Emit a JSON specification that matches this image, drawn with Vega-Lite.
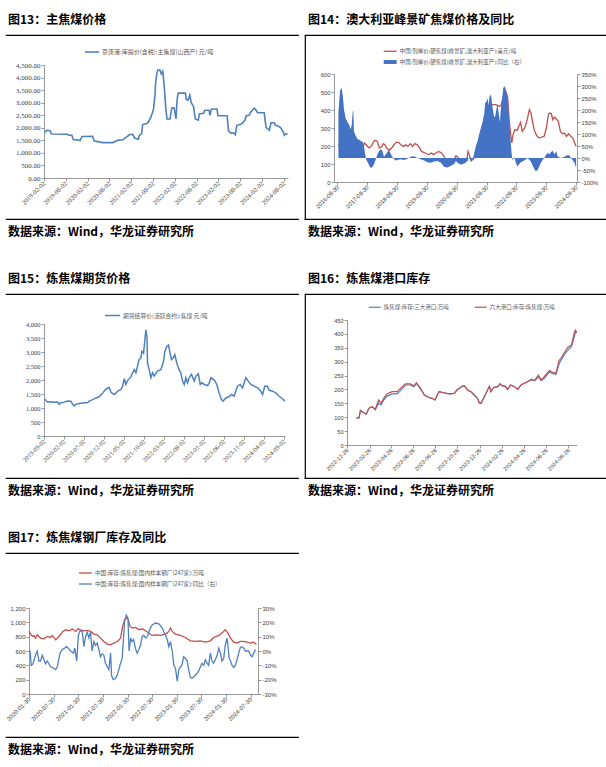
{
"$schema": "https://vega.github.io/schema/vega-lite/v6.json",
"background": "white",
"padding": {"left": 5, "top": 0, "right": 0, "bottom": 0},
"bounds": "flush",
"spacing": 299,
"resolve": {"scale": {"color": "independent"}, "legend": {"color": "independent"}},
"config": {
  "view": {"stroke": null},
  "concat": {"spacing": 0},
  "font": "Noto Sans CJK SC",
  "title": {"font": "Noto Sans CJK SC", "fontSize": 12, "fontWeight": "bold", "color": "#000000", "anchor": "start", "frame": "group"},
  "axis": {"grid": false, "domainColor": "#7f7f7f", "tickColor": "#7f7f7f", "tickSize": 3, "domainWidth": 0.8, "tickWidth": 0.8, "labelColor": "#404040", "labelPadding": 1, "labelOverlap": false, "labelFlush": false, "labelFont": "Liberation Sans", "labelFontSize": 6},
  "axisX": {"labelAngle": -45, "labelAlign": "right", "labelBaseline": "middle", "format": "%Y-%m-%d"},
  "legend": {"padding": 0, "labelFont": "Noto Sans CJK SC", "labelFontSize": 5.8, "labelColor": "#595959", "labelLimit": 400, "labelOffset": 2, "symbolStrokeWidth": 1.5, "orient": "none", "title": null}
},
"datasets": {
  "p13": [
    {"d":"2019-02-05","v":1810},{"d":"2019-02-25","v":1900},{"d":"2019-03-25","v":1880},{"d":"2019-04-05","v":1750},{"d":"2019-08-18","v":1740},{"d":"2019-08-27","v":1700},{"d":"2019-09-23","v":1700},{"d":"2019-10-05","v":1530},{"d":"2019-12-02","v":1500},{"d":"2019-12-17","v":1650},{"d":"2020-03-14","v":1660},{"d":"2020-03-29","v":1470},{"d":"2020-05-08","v":1440},{"d":"2020-06-05","v":1410},{"d":"2020-08-29","v":1410},{"d":"2020-10-11","v":1500},{"d":"2020-11-23","v":1520},{"d":"2020-12-20","v":1620},{"d":"2021-01-17","v":1720},{"d":"2021-02-14","v":1740},{"d":"2021-03-01","v":1590},{"d":"2021-04-02","v":1540},{"d":"2021-04-11","v":1700},{"d":"2021-04-29","v":1760},{"d":"2021-05-08","v":2130},{"d":"2021-06-17","v":2180},{"d":"2021-07-02","v":2290},{"d":"2021-07-14","v":2400},{"d":"2021-07-29","v":2600},{"d":"2021-08-07","v":2750},{"d":"2021-08-19","v":3300},{"d":"2021-08-25","v":3800},{"d":"2021-09-03","v":4150},{"d":"2021-09-12","v":4300},{"d":"2021-09-29","v":4300},{"d":"2021-10-11","v":4150},{"d":"2021-10-23","v":4250},{"d":"2021-10-29","v":4000},{"d":"2021-11-07","v":3500},{"d":"2021-11-19","v":2700},{"d":"2021-11-28","v":2350},{"d":"2021-12-23","v":2350},{"d":"2022-01-02","v":2650},{"d":"2022-01-08","v":2800},{"d":"2022-01-26","v":2800},{"d":"2022-02-04","v":2550},{"d":"2022-02-11","v":2350},{"d":"2022-02-20","v":3100},{"d":"2022-03-01","v":3380},{"d":"2022-05-01","v":3380},{"d":"2022-05-08","v":3130},{"d":"2022-05-23","v":3100},{"d":"2022-06-07","v":3300},{"d":"2022-06-19","v":3000},{"d":"2022-07-08","v":2850},{"d":"2022-07-23","v":2350},{"d":"2022-08-17","v":2300},{"d":"2022-08-26","v":2550},{"d":"2022-09-29","v":2580},{"d":"2022-10-11","v":2700},{"d":"2022-11-14","v":2700},{"d":"2022-11-23","v":2500},{"d":"2022-12-05","v":2750},{"d":"2023-01-20","v":2750},{"d":"2023-01-29","v":2480},{"d":"2023-04-15","v":2480},{"d":"2023-04-27","v":1880},{"d":"2023-05-18","v":1790},{"d":"2023-06-08","v":1800},{"d":"2023-06-23","v":1720},{"d":"2023-07-05","v":2100},{"d":"2023-08-14","v":2150},{"d":"2023-09-11","v":2300},{"d":"2023-09-23","v":2480},{"d":"2023-10-17","v":2500},{"d":"2023-11-02","v":2650},{"d":"2023-11-29","v":2780},{"d":"2023-12-17","v":2680},{"d":"2023-12-26","v":2600},{"d":"2024-02-20","v":2600},{"d":"2024-03-06","v":2020},{"d":"2024-04-02","v":1900},{"d":"2024-04-17","v":2200},{"d":"2024-05-14","v":2200},{"d":"2024-05-23","v":2100},{"d":"2024-06-11","v":2080},{"d":"2024-07-08","v":2000},{"d":"2024-07-26","v":1850},{"d":"2024-08-07","v":1700},{"d":"2024-08-19","v":1760},{"d":"2024-09-03","v":1760}
  ],
  "p15": [
    {"d":"2019-09-04","v":1328},{"d":"2019-09-17","v":1267},{"d":"2019-09-30","v":1215},{"d":"2019-10-25","v":1225},{"d":"2019-11-20","v":1205},{"d":"2019-12-15","v":1215},{"d":"2019-12-27","v":1130},{"d":"2020-01-09","v":1190},{"d":"2020-02-04","v":1210},{"d":"2020-02-28","v":1250},{"d":"2020-03-25","v":1245},{"d":"2020-04-07","v":1130},{"d":"2020-04-19","v":1070},{"d":"2020-05-02","v":1130},{"d":"2020-05-26","v":1160},{"d":"2020-07-05","v":1190},{"d":"2020-07-30","v":1190},{"d":"2020-08-11","v":1245},{"d":"2020-09-07","v":1300},{"d":"2020-10-02","v":1360},{"d":"2020-10-26","v":1400},{"d":"2020-11-22","v":1540},{"d":"2020-12-17","v":1680},{"d":"2021-01-11","v":1730},{"d":"2021-01-24","v":1560},{"d":"2021-02-19","v":1480},{"d":"2021-03-16","v":1600},{"d":"2021-04-10","v":1660},{"d":"2021-04-23","v":1780},{"d":"2021-05-05","v":2050},{"d":"2021-05-17","v":1840},{"d":"2021-05-30","v":1980},{"d":"2021-06-24","v":2100},{"d":"2021-07-07","v":2260},{"d":"2021-07-20","v":2370},{"d":"2021-08-02","v":2260},{"d":"2021-08-14","v":2490},{"d":"2021-08-26","v":2730},{"d":"2021-09-09","v":2790},{"d":"2021-09-16","v":3020},{"d":"2021-09-29","v":2960},{"d":"2021-10-09","v":3430},{"d":"2021-10-17","v":3790},{"d":"2021-10-25","v":3550},{"d":"2021-10-29","v":2610},{"d":"2021-11-11","v":2370},{"d":"2021-11-24","v":2080},{"d":"2021-12-07","v":2260},{"d":"2021-12-19","v":2140},{"d":"2022-01-13","v":2320},{"d":"2022-02-08","v":2370},{"d":"2022-02-28","v":2670},{"d":"2022-03-10","v":3020},{"d":"2022-03-25","v":3200},{"d":"2022-04-07","v":3250},{"d":"2022-04-19","v":2960},{"d":"2022-04-29","v":2730},{"d":"2022-05-14","v":2790},{"d":"2022-05-25","v":2910},{"d":"2022-06-09","v":2610},{"d":"2022-06-27","v":2370},{"d":"2022-07-10","v":2250},{"d":"2022-07-23","v":1960},{"d":"2022-08-05","v":1840},{"d":"2022-08-17","v":2080},{"d":"2022-08-30","v":1900},{"d":"2022-09-11","v":2080},{"d":"2022-09-29","v":2200},{"d":"2022-10-20","v":1960},{"d":"2022-11-02","v":2140},{"d":"2022-11-20","v":2220},{"d":"2022-12-05","v":1840},{"d":"2022-12-17","v":1900},{"d":"2023-01-05","v":1840},{"d":"2023-01-30","v":1800},{"d":"2023-02-11","v":1900},{"d":"2023-02-24","v":2080},{"d":"2023-03-22","v":2000},{"d":"2023-04-10","v":1840},{"d":"2023-04-27","v":1540},{"d":"2023-05-15","v":1300},{"d":"2023-05-27","v":1245},{"d":"2023-06-17","v":1360},{"d":"2023-07-12","v":1400},{"d":"2023-07-30","v":1480},{"d":"2023-08-20","v":1420},{"d":"2023-09-14","v":1780},{"d":"2023-10-05","v":1840},{"d":"2023-10-23","v":1720},{"d":"2023-11-17","v":2080},{"d":"2023-12-05","v":1960},{"d":"2023-12-25","v":1840},{"d":"2024-01-20","v":1780},{"d":"2024-02-14","v":1720},{"d":"2024-03-10","v":1600},{"d":"2024-03-23","v":1480},{"d":"2024-04-09","v":1780},{"d":"2024-04-29","v":1780},{"d":"2024-05-11","v":1640},{"d":"2024-06-07","v":1600},{"d":"2024-07-02","v":1540},{"d":"2024-07-27","v":1420},{"d":"2024-08-22","v":1330},{"d":"2024-09-09","v":1245}
  ],
  "p14l": [
    {"d":"2016-09-12","p":200},{"d":"2016-10-15","p":230},{"d":"2016-11-15","p":290},{"d":"2016-12-15","p":260},{"d":"2017-01-20","p":220},{"d":"2017-02-20","p":160},{"d":"2017-03-15","p":150},{"d":"2017-04-15","p":200},{"d":"2017-05-15","p":190},{"d":"2017-06-15","p":170},{"d":"2017-07-14","p":200},{"d":"2017-07-30","p":217},{"d":"2017-08-17","p":207},{"d":"2017-09-22","p":189},{"d":"2017-10-18","p":198},{"d":"2017-11-10","p":217},{"d":"2017-11-25","p":230},{"d":"2017-12-15","p":231},{"d":"2018-01-05","p":220},{"d":"2018-01-25","p":189},{"d":"2018-02-24","p":194},{"d":"2018-03-15","p":213},{"d":"2018-04-05","p":207},{"d":"2018-04-25","p":189},{"d":"2018-05-28","p":176},{"d":"2018-06-25","p":189},{"d":"2018-07-25","p":207},{"d":"2018-08-20","p":220},{"d":"2018-09-18","p":220},{"d":"2018-10-15","p":207},{"d":"2018-11-20","p":198},{"d":"2018-12-15","p":207},{"d":"2019-01-10","p":198},{"d":"2019-02-10","p":213},{"d":"2019-03-10","p":198},{"d":"2019-04-05","p":213},{"d":"2019-05-05","p":207},{"d":"2019-06-05","p":189},{"d":"2019-06-25","p":170},{"d":"2019-07-25","p":165},{"d":"2019-08-28","p":157},{"d":"2019-09-25","p":152},{"d":"2019-10-25","p":161},{"d":"2019-11-20","p":152},{"d":"2019-12-20","p":161},{"d":"2020-01-20","p":170},{"d":"2020-02-12","p":165},{"d":"2020-03-15","p":152},{"d":"2020-04-12","p":128},{"d":"2020-05-10","p":109},{"d":"2020-06-20","p":106},{"d":"2020-07-20","p":115},{"d":"2020-08-20","p":146},{"d":"2020-09-10","p":139},{"d":"2020-10-15","p":109},{"d":"2020-11-30","p":106},{"d":"2020-12-30","p":120},{"d":"2021-01-15","p":170},{"d":"2021-01-30","p":152},{"d":"2021-02-20","p":120},{"d":"2021-03-12","p":124},{"d":"2021-04-01","p":133},{"d":"2021-05-12","p":150},{"d":"2021-06-22","p":190},{"d":"2021-08-02","p":250},{"d":"2021-08-25","p":430},{"d":"2021-09-11","p":411},{"d":"2021-10-01","p":420},{"d":"2021-11-10","p":430},{"d":"2021-12-20","p":430},{"d":"2022-02-01","p":420},{"d":"2022-02-22","p":424},{"d":"2022-03-15","p":457},{"d":"2022-04-03","p":485},{"d":"2022-04-28","p":498},{"d":"2022-05-16","p":467},{"d":"2022-06-02","p":346},{"d":"2022-06-20","p":272},{"d":"2022-07-05","p":217},{"d":"2022-07-20","p":263},{"d":"2022-08-10","p":291},{"d":"2022-09-10","p":287},{"d":"2022-10-01","p":313},{"d":"2022-10-20","p":331},{"d":"2022-11-10","p":281},{"d":"2022-12-10","p":300},{"d":"2023-01-05","p":337},{"d":"2023-02-05","p":402},{"d":"2023-02-25","p":383},{"d":"2023-03-15","p":337},{"d":"2023-04-05","p":291},{"d":"2023-05-05","p":257},{"d":"2023-06-05","p":244},{"d":"2023-07-05","p":250},{"d":"2023-08-05","p":254},{"d":"2023-09-01","p":300},{"d":"2023-09-25","p":374},{"d":"2023-10-10","p":383},{"d":"2023-11-01","p":380},{"d":"2023-11-18","p":346},{"d":"2023-12-08","p":361},{"d":"2024-01-01","p":350},{"d":"2024-01-25","p":337},{"d":"2024-02-20","p":281},{"d":"2024-03-15","p":268},{"d":"2024-04-09","p":272},{"d":"2024-05-05","p":254},{"d":"2024-05-28","p":268},{"d":"2024-06-20","p":257},{"d":"2024-07-21","p":244},{"d":"2024-08-10","p":220},{"d":"2024-08-30","p":198}
  ],
  "p14a": [
    {"d":"2016-09-12","y":190},{"d":"2016-10-02","y":280},{"d":"2016-10-18","y":295},{"d":"2016-11-04","y":260},{"d":"2016-11-20","y":200},{"d":"2016-12-10","y":165},{"d":"2016-12-31","y":150},{"d":"2017-01-20","y":140},{"d":"2017-02-10","y":120},{"d":"2017-02-22","y":140},{"d":"2017-03-05","y":190},{"d":"2017-03-13","y":200},{"d":"2017-03-21","y":110},{"d":"2017-04-10","y":95},{"d":"2017-05-01","y":80},{"d":"2017-06-11","y":72},{"d":"2017-07-14","y":65},{"d":"2017-07-30","y":30},{"d":"2017-08-16","y":-5},{"d":"2017-09-01","y":-15},{"d":"2017-09-22","y":-30},{"d":"2017-10-12","y":-42},{"d":"2017-11-02","y":-38},{"d":"2017-11-23","y":-25},{"d":"2017-12-13","y":-5},{"d":"2018-01-02","y":15},{"d":"2018-01-23","y":28},{"d":"2018-02-12","y":38},{"d":"2018-03-03","y":30},{"d":"2018-03-24","y":5},{"d":"2018-04-14","y":15},{"d":"2018-05-04","y":25},{"d":"2018-05-24","y":32},{"d":"2018-06-14","y":18},{"d":"2018-07-04","y":5},{"d":"2018-07-25","y":-5},{"d":"2018-08-14","y":-10},{"d":"2018-09-04","y":-8},{"d":"2018-10-15","y":-5},{"d":"2018-11-25","y":-8},{"d":"2019-01-05","y":-3},{"d":"2019-02-15","y":5},{"d":"2019-03-27","y":7},{"d":"2019-05-07","y":0},{"d":"2019-06-17","y":-5},{"d":"2019-07-28","y":-10},{"d":"2019-09-07","y":-18},{"d":"2019-10-18","y":-20},{"d":"2019-11-28","y":-15},{"d":"2020-01-08","y":-12},{"d":"2020-02-18","y":-20},{"d":"2020-03-30","y":-38},{"d":"2020-05-09","y":-40},{"d":"2020-06-19","y":-32},{"d":"2020-07-30","y":-25},{"d":"2020-08-20","y":-12},{"d":"2020-09-09","y":-20},{"d":"2020-10-20","y":-28},{"d":"2020-11-30","y":-22},{"d":"2021-01-10","y":-12},{"d":"2021-01-30","y":5},{"d":"2021-02-20","y":-18},{"d":"2021-03-12","y":-8},{"d":"2021-04-01","y":20},{"d":"2021-04-21","y":50},{"d":"2021-05-12","y":70},{"d":"2021-06-01","y":100},{"d":"2021-06-22","y":125},{"d":"2021-07-12","y":150},{"d":"2021-08-02","y":185},{"d":"2021-08-14","y":230},{"d":"2021-08-30","y":235},{"d":"2021-09-11","y":250},{"d":"2021-09-23","y":220},{"d":"2021-10-05","y":255},{"d":"2021-10-23","y":265},{"d":"2021-11-04","y":230},{"d":"2021-11-16","y":200},{"d":"2021-12-02","y":170},{"d":"2021-12-14","y":175},{"d":"2021-12-30","y":205},{"d":"2022-01-11","y":225},{"d":"2022-01-24","y":190},{"d":"2022-02-10","y":150},{"d":"2022-02-22","y":210},{"d":"2022-03-06","y":240},{"d":"2022-03-22","y":290},{"d":"2022-04-03","y":300},{"d":"2022-04-20","y":290},{"d":"2022-05-06","y":260},{"d":"2022-05-18","y":240},{"d":"2022-05-30","y":180},{"d":"2022-06-11","y":120},{"d":"2022-06-23","y":60},{"d":"2022-07-05","y":10},{"d":"2022-07-17","y":-10},{"d":"2022-08-04","y":5},{"d":"2022-08-23","y":-20},{"d":"2022-09-13","y":-35},{"d":"2022-10-04","y":-25},{"d":"2022-10-24","y":-18},{"d":"2022-12-04","y":-10},{"d":"2023-01-14","y":0},{"d":"2023-02-24","y":-15},{"d":"2023-03-15","y":-30},{"d":"2023-04-05","y":-45},{"d":"2023-04-26","y":-55},{"d":"2023-05-16","y":-50},{"d":"2023-06-06","y":-35},{"d":"2023-06-26","y":-20},{"d":"2023-07-17","y":-8},{"d":"2023-08-06","y":0},{"d":"2023-08-27","y":12},{"d":"2023-09-17","y":22},{"d":"2023-10-08","y":15},{"d":"2023-10-28","y":25},{"d":"2023-11-18","y":30},{"d":"2023-12-08","y":15},{"d":"2023-12-30","y":28},{"d":"2024-01-19","y":5},{"d":"2024-02-29","y":0},{"d":"2024-04-09","y":5},{"d":"2024-05-20","y":12},{"d":"2024-06-09","y":10},{"d":"2024-06-30","y":0},{"d":"2024-07-21","y":-10},{"d":"2024-08-10","y":-20},{"d":"2024-08-30","y":-40}
  ],
  "p16": [
    {"d":"2023-01-21","a":98,"b":98},{"d":"2023-01-28","a":98,"b":98},{"d":"2023-02-01","a":124,"b":124},{"d":"2023-02-10","a":116,"b":116},{"d":"2023-02-17","a":111,"b":111},{"d":"2023-02-24","a":132,"b":132},{"d":"2023-03-05","a":138,"b":138},{"d":"2023-03-14","a":127,"b":129},{"d":"2023-03-23","a":150,"b":162},{"d":"2023-03-30","a":144,"b":150},{"d":"2023-04-06","a":162,"b":168},{"d":"2023-04-15","a":176,"b":184},{"d":"2023-04-29","a":184,"b":192},{"d":"2023-05-13","a":184,"b":192},{"d":"2023-05-22","a":196,"b":204},{"d":"2023-06-05","a":216,"b":220},{"d":"2023-06-19","a":216,"b":220},{"d":"2023-06-28","a":210,"b":212},{"d":"2023-07-05","a":222,"b":224},{"d":"2023-07-16","a":203,"b":204},{"d":"2023-07-27","a":180,"b":180},{"d":"2023-08-08","a":171,"b":171},{"d":"2023-08-17","a":168,"b":168},{"d":"2023-08-25","a":162,"b":162},{"d":"2023-09-05","a":192,"b":192},{"d":"2023-09-19","a":188,"b":188},{"d":"2023-10-03","a":184,"b":184},{"d":"2023-10-17","a":186,"b":186},{"d":"2023-10-26","a":200,"b":200},{"d":"2023-11-09","a":212,"b":212},{"d":"2023-11-15","a":212,"b":212},{"d":"2023-11-23","a":198,"b":198},{"d":"2023-12-02","a":192,"b":192},{"d":"2023-12-11","a":180,"b":180},{"d":"2023-12-20","a":168,"b":168},{"d":"2023-12-25","a":152,"b":152},{"d":"2023-12-30","a":150,"b":150},{"d":"2024-01-08","a":174,"b":174},{"d":"2024-01-22","a":212,"b":212},{"d":"2024-01-26","a":192,"b":192},{"d":"2024-02-03","a":207,"b":207},{"d":"2024-02-14","a":210,"b":210},{"d":"2024-02-20","a":220,"b":220},{"d":"2024-02-28","a":212,"b":212},{"d":"2024-03-05","a":212,"b":212},{"d":"2024-03-12","a":200,"b":200},{"d":"2024-03-20","a":216,"b":216},{"d":"2024-03-31","a":210,"b":210},{"d":"2024-04-09","a":200,"b":200},{"d":"2024-04-18","a":216,"b":216},{"d":"2024-04-27","a":222,"b":222},{"d":"2024-05-06","a":228,"b":228},{"d":"2024-05-16","a":234,"b":237},{"d":"2024-05-25","a":232,"b":232},{"d":"2024-05-29","a":236,"b":240},{"d":"2024-06-05","a":245,"b":252},{"d":"2024-06-12","a":232,"b":234},{"d":"2024-06-21","a":240,"b":246},{"d":"2024-07-05","a":262,"b":268},{"d":"2024-07-14","a":258,"b":262},{"d":"2024-07-23","a":254,"b":258},{"d":"2024-08-01","a":293,"b":305},{"d":"2024-08-06","a":305,"b":312},{"d":"2024-08-15","a":325,"b":332},{"d":"2024-08-24","a":340,"b":350},{"d":"2024-09-04","a":355,"b":360},{"d":"2024-09-12","a":392,"b":408},{"d":"2024-09-15","a":405,"b":414},{"d":"2024-09-18","a":408,"b":404}
  ],
  "p17r": [
    {"d":"2020-01-30","v":873},{"d":"2020-02-11","v":836},{"d":"2020-02-24","v":803},{"d":"2020-03-06","v":817},{"d":"2020-03-18","v":780},{"d":"2020-03-31","v":826},{"d":"2020-04-13","v":803},{"d":"2020-04-25","v":780},{"d":"2020-05-20","v":770},{"d":"2020-06-14","v":803},{"d":"2020-07-08","v":789},{"d":"2020-07-21","v":817},{"d":"2020-08-15","v":756},{"d":"2020-09-09","v":803},{"d":"2020-10-03","v":864},{"d":"2020-10-28","v":896},{"d":"2020-11-21","v":882},{"d":"2020-12-16","v":906},{"d":"2021-01-10","v":873},{"d":"2021-01-28","v":910},{"d":"2021-02-16","v":896},{"d":"2021-03-13","v":882},{"d":"2021-04-06","v":887},{"d":"2021-04-30","v":873},{"d":"2021-05-25","v":836},{"d":"2021-06-19","v":826},{"d":"2021-07-13","v":780},{"d":"2021-08-07","v":733},{"d":"2021-09-01","v":696},{"d":"2021-09-26","v":686},{"d":"2021-10-20","v":710},{"d":"2021-11-14","v":733},{"d":"2021-12-09","v":780},{"d":"2021-12-24","v":943},{"d":"2022-01-08","v":1036},{"d":"2022-01-23","v":1060},{"d":"2022-02-05","v":1036},{"d":"2022-02-17","v":943},{"d":"2022-03-06","v":920},{"d":"2022-03-30","v":929},{"d":"2022-04-24","v":896},{"d":"2022-05-18","v":910},{"d":"2022-06-12","v":882},{"d":"2022-07-06","v":850},{"d":"2022-07-30","v":817},{"d":"2022-09-07","v":826},{"d":"2022-10-01","v":817},{"d":"2022-11-08","v":836},{"d":"2022-12-02","v":873},{"d":"2022-12-14","v":920},{"d":"2022-12-27","v":873},{"d":"2023-01-20","v":836},{"d":"2023-02-27","v":817},{"d":"2023-04-03","v":789},{"d":"2023-05-11","v":742},{"d":"2023-06-17","v":733},{"d":"2023-07-24","v":742},{"d":"2023-08-30","v":724},{"d":"2023-10-06","v":742},{"d":"2023-10-30","v":789},{"d":"2023-12-07","v":817},{"d":"2023-12-31","v":850},{"d":"2024-01-24","v":896},{"d":"2024-02-13","v":850},{"d":"2024-03-03","v":780},{"d":"2024-03-27","v":724},{"d":"2024-04-21","v":710},{"d":"2024-05-15","v":733},{"d":"2024-06-09","v":733},{"d":"2024-07-04","v":724},{"d":"2024-07-30","v":710},{"d":"2024-08-18","v":724},{"d":"2024-09-11","v":696}
  ],
  "p17b": [
    {"d":"2020-01-30","y":0},{"d":"2020-02-06","y":0},{"d":"2020-02-16","y":-10},{"d":"2020-02-28","y":-9},{"d":"2020-03-18","y":-3},{"d":"2020-03-31","y":0},{"d":"2020-04-13","y":-7},{"d":"2020-04-25","y":-7},{"d":"2020-05-07","y":-3},{"d":"2020-05-20","y":-6},{"d":"2020-06-01","y":-9},{"d":"2020-06-14","y":-7},{"d":"2020-07-08","y":-11},{"d":"2020-08-02","y":-12},{"d":"2020-08-15","y":-13},{"d":"2020-08-27","y":-11},{"d":"2020-09-16","y":-1.5},{"d":"2020-10-03","y":1},{"d":"2020-10-20","y":2},{"d":"2020-11-04","y":3},{"d":"2020-11-21","y":1.5},{"d":"2020-12-04","y":0},{"d":"2020-12-24","y":-1.5},{"d":"2021-01-03","y":2},{"d":"2021-01-18","y":-7},{"d":"2021-01-30","y":11},{"d":"2021-02-11","y":14},{"d":"2021-02-28","y":13.5},{"d":"2021-03-12","y":3},{"d":"2021-03-24","y":10},{"d":"2021-04-06","y":13},{"d":"2021-04-18","y":9},{"d":"2021-04-30","y":13.5},{"d":"2021-05-12","y":0},{"d":"2021-05-25","y":6.5},{"d":"2021-06-06","y":4},{"d":"2021-06-19","y":5.5},{"d":"2021-07-01","y":1},{"d":"2021-07-13","y":-4},{"d":"2021-07-25","y":-2},{"d":"2021-08-07","y":-3},{"d":"2021-08-19","y":-8.5},{"d":"2021-09-01","y":-11},{"d":"2021-09-13","y":-13},{"d":"2021-09-26","y":-1.5},{"d":"2021-10-03","y":-17},{"d":"2021-10-15","y":-20},{"d":"2021-11-02","y":-19},{"d":"2021-11-14","y":-17},{"d":"2021-11-26","y":-13},{"d":"2021-12-09","y":-8.5},{"d":"2021-12-21","y":-5},{"d":"2021-12-29","y":6.5},{"d":"2022-01-08","y":20.7},{"d":"2022-01-20","y":25},{"d":"2022-02-02","y":23},{"d":"2022-02-10","y":0},{"d":"2022-02-22","y":9},{"d":"2022-03-04","y":6.5},{"d":"2022-03-16","y":8},{"d":"2022-03-29","y":2},{"d":"2022-04-10","y":-1.5},{"d":"2022-04-24","y":1},{"d":"2022-05-06","y":4},{"d":"2022-05-18","y":10},{"d":"2022-05-30","y":11},{"d":"2022-06-12","y":9},{"d":"2022-06-24","y":10},{"d":"2022-07-06","y":13},{"d":"2022-07-18","y":16},{"d":"2022-07-30","y":18},{"d":"2022-08-24","y":19.5},{"d":"2022-09-19","y":19},{"d":"2022-10-15","y":16},{"d":"2022-10-27","y":13},{"d":"2022-11-08","y":11},{"d":"2022-11-20","y":8},{"d":"2022-12-02","y":3},{"d":"2022-12-14","y":6.5},{"d":"2022-12-27","y":0},{"d":"2023-01-08","y":-10},{"d":"2023-01-20","y":-12},{"d":"2023-02-02","y":-21},{"d":"2023-02-14","y":-13},{"d":"2023-02-27","y":-11},{"d":"2023-03-09","y":-10},{"d":"2023-03-21","y":-4},{"d":"2023-04-03","y":-5},{"d":"2023-04-17","y":-7},{"d":"2023-04-28","y":-13},{"d":"2023-05-11","y":-18.5},{"d":"2023-05-23","y":-19},{"d":"2023-06-17","y":-17},{"d":"2023-07-11","y":-14},{"d":"2023-07-24","y":-11},{"d":"2023-08-05","y":-8.5},{"d":"2023-08-17","y":-10},{"d":"2023-08-30","y":-6},{"d":"2023-09-11","y":-8.5},{"d":"2023-09-23","y":-10},{"d":"2023-10-06","y":-1.5},{"d":"2023-10-18","y":-7},{"d":"2023-10-30","y":-8.5},{"d":"2023-11-12","y":-6},{"d":"2023-11-25","y":-3},{"d":"2023-12-07","y":2},{"d":"2023-12-19","y":-1.5},{"d":"2023-12-31","y":-7},{"d":"2024-01-13","y":-5},{"d":"2024-01-24","y":4},{"d":"2024-02-06","y":9},{"d":"2024-02-13","y":4},{"d":"2024-02-22","y":-5},{"d":"2024-03-03","y":-7},{"d":"2024-03-15","y":-10},{"d":"2024-03-27","y":-11.5},{"d":"2024-04-08","y":-10},{"d":"2024-04-21","y":-6},{"d":"2024-05-03","y":-1.5},{"d":"2024-05-15","y":2.5},{"d":"2024-05-27","y":3},{"d":"2024-06-09","y":2},{"d":"2024-06-21","y":0},{"d":"2024-07-04","y":0},{"d":"2024-07-16","y":0},{"d":"2024-07-30","y":-3},{"d":"2024-08-11","y":-4},{"d":"2024-08-23","y":-1.5},{"d":"2024-09-05","y":1}
  ]
},
"hconcat": [
  {
    "bounds": "flush",
    "resolve": {"scale": {"color": "independent"}, "legend": {"color": "independent"}},
    "vconcat": [
      {"width": 1, "height": 35, "mark": "point", "data": {"values": []}},
      {"width": 292, "height": 0.01, "view": {"stroke": "#000000", "strokeWidth": 1.2}, "mark": "point", "data": {"values": []}, "title": {"text": "图13：主焦煤价格", "offset": 8, "dx": 2}},
      {"width": 1, "height": 29, "mark": "point", "data": {"values": []}},
      {"bounds": "flush", "resolve": {"scale": {"color": "independent"}, "legend": {"color": "independent"}}, "hconcat": [
        {"width": 38, "height": 1, "mark": "point", "data": {"values": []}},
        {"width": 244, "height": 113, "data": {"name": "p13"},
         "mark": {"type": "line", "strokeWidth": 1.6},
         "encoding": {
           "x": {"field": "d", "type": "temporal", "title": null,
                 "scale": {"type": "utc", "domain": [{"year":2019,"month":2,"date":2,"utc":true},{"year":2024,"month":9,"date":6,"utc":true}]},
                 "axis": {"labelFont": "Liberation Serif", "labelFontSize": 6.5, "values": [{"year":2019,"month":2,"date":2,"utc":true},{"year":2019,"month":8,"date":2,"utc":true},{"year":2020,"month":2,"date":2,"utc":true},{"year":2020,"month":8,"date":2,"utc":true},{"year":2021,"month":2,"date":2,"utc":true},{"year":2021,"month":8,"date":2,"utc":true},{"year":2022,"month":2,"date":2,"utc":true},{"year":2022,"month":8,"date":2,"utc":true},{"year":2023,"month":2,"date":2,"utc":true},{"year":2023,"month":8,"date":2,"utc":true},{"year":2024,"month":2,"date":2,"utc":true},{"year":2024,"month":8,"date":2,"utc":true}]}},
           "y": {"field": "v", "type": "quantitative", "title": null, "scale": {"domain": [0, 4500], "nice": false},
                 "axis": {"values": [0,500,1000,1500,2000,2500,3000,3500,4000,4500], "format": ",.2f", "labelFont": "Liberation Serif", "labelFontSize": 7}},
           "color": {"datum": "京唐港:库提价(含税):主焦煤(山西产)   元/吨", "scale": {"range": ["#4F81BD"]},
                     "legend": {"title": null, "orient": "none", "legendX": 40, "legendY": -21, "symbolType": "stroke", "symbolSize": 196, "symbolStrokeWidth": 1.6, "labelFontSize": 6}}
         }}
      ]},
      {"width": 1, "height": 154, "mark": "point", "data": {"values": []}},
      {"width": 292, "height": 0.01, "view": {"stroke": "#000000", "strokeWidth": 1.2}, "mark": "point", "data": {"values": []}, "title": {"text": "数据来源：Wind，华龙证券研究所", "orient": "bottom", "offset": 8, "dx": 2}},
      {"width": 1, "height": 74, "mark": "point", "data": {"values": []}},
      {"width": 292, "height": 0.01, "view": {"stroke": "#000000", "strokeWidth": 1.2}, "mark": "point", "data": {"values": []}, "title": {"text": "图15：炼焦煤期货价格", "offset": 8, "dx": 2}},
      {"width": 1, "height": 29, "mark": "point", "data": {"values": []}},
      {"bounds": "flush", "resolve": {"scale": {"color": "independent"}, "legend": {"color": "independent"}}, "hconcat": [
        {"width": 38, "height": 1, "mark": "point", "data": {"values": []}},
        {"width": 241, "height": 112, "data": {"name": "p15"},
         "mark": {"type": "line", "strokeWidth": 1.5},
         "encoding": {
           "x": {"field": "d", "type": "temporal", "title": null,
                 "scale": {"type": "utc", "domain": [{"year":2019,"month":9,"date":2,"utc":true},{"year":2024,"month":9,"date":10,"utc":true}]},
                 "axis": {"labelFont": "Liberation Serif", "labelFontSize": 6.3, "values": [{"year":2019,"month":9,"date":2,"utc":true},{"year":2020,"month":2,"date":2,"utc":true},{"year":2020,"month":7,"date":2,"utc":true},{"year":2020,"month":12,"date":2,"utc":true},{"year":2021,"month":5,"date":2,"utc":true},{"year":2021,"month":10,"date":2,"utc":true},{"year":2022,"month":3,"date":2,"utc":true},{"year":2022,"month":8,"date":2,"utc":true},{"year":2023,"month":1,"date":2,"utc":true},{"year":2023,"month":6,"date":2,"utc":true},{"year":2023,"month":11,"date":2,"utc":true},{"year":2024,"month":4,"date":2,"utc":true},{"year":2024,"month":9,"date":2,"utc":true}]}},
           "y": {"field": "v", "type": "quantitative", "title": null, "scale": {"domain": [0, 4000], "nice": false},
                 "axis": {"values": [0,500,1000,1500,2000,2500,3000,3500,4000], "format": ",d", "labelFont": "Liberation Serif", "labelFontSize": 6.5}},
           "color": {"datum": "期货结算价(活跃合约):焦煤  元/吨", "scale": {"range": ["#4F81BD"]},
                     "legend": {"title": null, "orient": "none", "legendX": 60, "legendY": -17, "symbolType": "stroke", "symbolSize": 225, "symbolStrokeWidth": 1.5}}
         }}
      ]},
      {"width": 1, "height": 154, "mark": "point", "data": {"values": []}},
      {"width": 292, "height": 0.01, "view": {"stroke": "#000000", "strokeWidth": 1.2}, "mark": "point", "data": {"values": []}, "title": {"text": "数据来源：Wind，华龙证券研究所", "orient": "bottom", "offset": 8, "dx": 2}},
      {"width": 1, "height": 74, "mark": "point", "data": {"values": []}},
      {"width": 292, "height": 0.01, "view": {"stroke": "#000000", "strokeWidth": 1.2}, "mark": "point", "data": {"values": []}, "title": {"text": "图17：炼焦煤钢厂库存及同比", "offset": 8, "dx": 2}},
      {"width": 1, "height": 54, "mark": "point", "data": {"values": []}},
      {"bounds": "flush", "resolve": {"scale": {"color": "independent"}, "legend": {"color": "independent"}}, "hconcat": [
        {"width": 23, "height": 1, "mark": "point", "data": {"values": []}},
        {"width": 229, "height": 86,
         "encoding": {
           "x": {"field": "d", "type": "temporal", "title": null,
                 "scale": {"type": "utc", "domain": [{"year":2020,"month":1,"date":30,"utc":true},{"year":2024,"month":9,"date":23,"utc":true}]},
                 "axis": {"labelFontSize": 6, "values": [{"year":2020,"month":1,"date":30,"utc":true},{"year":2020,"month":7,"date":30,"utc":true},{"year":2021,"month":1,"date":30,"utc":true},{"year":2021,"month":7,"date":30,"utc":true},{"year":2022,"month":1,"date":30,"utc":true},{"year":2022,"month":7,"date":30,"utc":true},{"year":2023,"month":1,"date":30,"utc":true},{"year":2023,"month":7,"date":30,"utc":true},{"year":2024,"month":1,"date":30,"utc":true},{"year":2024,"month":7,"date":30,"utc":true}]}}
         },
         "layer": [
           {"data": {"name": "p17r"}, "mark": {"type": "line", "strokeWidth": 1.3},
            "encoding": {
              "y": {"field": "v", "type": "quantitative", "title": null, "scale": {"domain": [0, 1200], "nice": false},
                    "axis": {"values": [0,200,400,600,800,1000,1200], "format": ",d", "labelFontSize": 6}},
              "color": {"datum": "中国:库存:炼焦煤:国内样本钢厂(247家):万吨", "scale": {"range": ["#C0504D"]},
                        "legend": {"title": null, "orient": "none", "legendX": 49, "legendY": -42.5, "symbolType": "stroke", "symbolSize": 169, "symbolStrokeWidth": 1.3, "labelFontSize": 5.6}}
            }},
           {"data": {"name": "p17b"}, "mark": {"type": "line", "strokeWidth": 1.3},
            "encoding": {
              "y": {"field": "y", "type": "quantitative", "title": null, "scale": {"domain": [-30, 30], "nice": false},
                    "axis": {"orient": "right", "values": [-30,-20,-10,0,10,20,30], "labelExpr": "datum.value + '%'", "labelFontSize": 6}},
              "color": {"datum": "中国:库存:炼焦煤:国内样本钢厂(247家):同比（右）", "scale": {"range": ["#4F81BD"]},
                        "legend": {"title": null, "orient": "none", "legendX": 49, "legendY": -31.5, "symbolType": "stroke", "symbolSize": 169, "symbolStrokeWidth": 1.3, "labelFontSize": 5.6}}
            }}
         ],
         "resolve": {"scale": {"y": "independent", "color": "independent"}}
        }
      ]},
      {"width": 1, "height": 129, "mark": "point", "data": {"values": []}},
      {"width": 292, "height": 0.01, "view": {"stroke": "#000000", "strokeWidth": 1.2}, "mark": "point", "data": {"values": []}, "title": {"text": "数据来源：Wind，华龙证券研究所", "orient": "bottom", "offset": 8, "dx": 2}}
    ]
  },
  {
    "bounds": "flush",
    "resolve": {"scale": {"color": "independent"}, "legend": {"color": "independent"}},
    "vconcat": [
      {"width": 1, "height": 35, "mark": "point", "data": {"values": []}},
      {"width": 302, "height": 0.01, "view": {"stroke": "#000000", "strokeWidth": 1.2}, "mark": "point", "data": {"values": []}, "title": {"text": "图14：澳大利亚峰景矿焦煤价格及同比", "offset": 8, "dx": 3}},
      {"bounds": "flush", "resolve": {"scale": {"color": "independent"}, "legend": {"color": "independent"}}, "hconcat": [
        {"width": 29, "height": 1, "mark": "point", "data": {"values": []}},
        {"bounds": "flush", "resolve": {"scale": {"color": "independent"}, "legend": {"color": "independent"}}, "vconcat": [
          {"width": 1, "height": 38, "mark": "point", "data": {"values": []}},
          {"width": 243, "height": 108,
           "encoding": {
             "x": {"field": "d", "type": "temporal", "title": null,
                   "scale": {"type": "utc", "domain": [{"year":2016,"month":7,"date":20,"utc":true},{"year":2024,"month":9,"date":10,"utc":true}]},
                   "axis": {"labelFontSize": 5.8, "values": [{"year":2016,"month":8,"date":30,"utc":true},{"year":2017,"month":8,"date":30,"utc":true},{"year":2018,"month":8,"date":30,"utc":true},{"year":2019,"month":8,"date":30,"utc":true},{"year":2020,"month":8,"date":30,"utc":true},{"year":2021,"month":8,"date":30,"utc":true},{"year":2022,"month":8,"date":30,"utc":true},{"year":2023,"month":8,"date":30,"utc":true},{"year":2024,"month":8,"date":30,"utc":true}]}}
           },
           "layer": [
             {"data": {"name": "p14l"}, "mark": {"type": "line", "strokeWidth": 1.3},
              "encoding": {
                "y": {"field": "p", "type": "quantitative", "title": null, "scale": {"domain": [0, 600], "nice": false},
                      "axis": {"values": [0,100,200,300,400,500,600], "labelFontSize": 5.8}},
                "color": {"datum": "中国:到岸价:硬焦煤(峰景矿,澳大利亚产):美元/吨", "scale": {"range": ["#C0504D"]},
                          "legend": {"title": null, "orient": "none", "legendX": 48.7, "legendY": -30.2, "symbolType": "stroke", "symbolSize": 169, "symbolStrokeWidth": 1.3, "labelFontSize": 5.5}}
              }},
             {"data": {"name": "p14a"}, "mark": {"type": "area", "opacity": 1},
              "encoding": {
                "y": {"field": "y", "type": "quantitative", "title": null, "scale": {"domain": [-100, 350], "nice": false},
                      "axis": {"orient": "right", "values": [-100,-50,0,50,100,150,200,250,300,350], "labelExpr": "datum.value + '%'", "labelFontSize": 5.8}},
                "y2": {"datum": 0},
                "color": {"datum": "中国:到岸价:硬焦煤(峰景矿,澳大利亚产):同比（右）", "scale": {"range": ["#4472C4"]},
                          "legend": {"title": null, "orient": "none", "legendX": 48.7, "legendY": -19.5, "symbolType": "M-1,-0.3L1,-0.3L1,0.3L-1,0.3Z", "symbolSize": 169, "labelFontSize": 5.5}}
              }}
           ],
           "resolve": {"scale": {"y": "independent", "color": "independent"}}
          }
        ]}
      ]},
      {"width": 0.01, "height": 183, "view": {"stroke": "#000000", "strokeWidth": 1.2}, "mark": "point", "data": {"values": []}},
      {"width": 302, "height": 0.01, "view": {"stroke": "#000000", "strokeWidth": 1.2}, "mark": "point", "data": {"values": []}, "title": {"text": "数据来源：Wind，华龙证券研究所", "orient": "bottom", "offset": 8, "dx": 3}},
      {"width": 1, "height": 74, "mark": "point", "data": {"values": []}},
      {"width": 302, "height": 0.01, "view": {"stroke": "#000000", "strokeWidth": 1.2}, "mark": "point", "data": {"values": []}, "title": {"text": "图16：炼焦煤港口库存", "offset": 8, "dx": 3}},
      {"bounds": "flush", "resolve": {"scale": {"color": "independent"}, "legend": {"color": "independent"}}, "hconcat": [
        {"width": 42, "height": 1, "mark": "point", "data": {"values": []}},
        {"bounds": "flush", "resolve": {"scale": {"color": "independent"}, "legend": {"color": "independent"}}, "vconcat": [
          {"width": 1, "height": 25, "mark": "point", "data": {"values": []}},
          {"width": 230, "height": 125, "data": {"name": "p16"},
           "transform": [{"fold": ["a", "b"], "as": ["s", "v"]}],
           "mark": {"type": "line", "strokeWidth": 1.2},
           "encoding": {
             "x": {"field": "d", "type": "temporal", "title": null,
                   "scale": {"type": "utc", "domain": [{"year":2022,"month":12,"date":26,"utc":true},{"year":2024,"month":9,"date":19,"utc":true}]},
                   "axis": {"labelFontSize": 5.6, "values": [{"year":2022,"month":12,"date":26,"utc":true},{"year":2023,"month":2,"date":26,"utc":true},{"year":2023,"month":4,"date":26,"utc":true},{"year":2023,"month":6,"date":26,"utc":true},{"year":2023,"month":8,"date":26,"utc":true},{"year":2023,"month":10,"date":26,"utc":true},{"year":2023,"month":12,"date":26,"utc":true},{"year":2024,"month":2,"date":26,"utc":true},{"year":2024,"month":4,"date":26,"utc":true},{"year":2024,"month":6,"date":26,"utc":true},{"year":2024,"month":8,"date":26,"utc":true}]}},
             "y": {"field": "v", "type": "quantitative", "title": null, "scale": {"domain": [0, 450], "nice": false},
                   "axis": {"values": [0,50,100,150,200,250,300,350,400,450], "labelFontSize": 5.6}},
             "color": {"field": "s", "type": "nominal", "scale": {"domain": ["a", "b"], "range": ["#4F81BD", "#C0504D"]},
                       "legend": {"title": null, "orient": "none", "direction": "horizontal", "legendX": 20.7, "legendY": -20, "symbolType": "stroke", "symbolSize": 144, "symbolStrokeWidth": 1.2, "columnPadding": 22, "labelFontSize": 5.5,
                                  "labelExpr": "datum.label == 'a' ? '炼焦煤:库存:三大港口:万吨' : '六大港口:库存:炼焦煤:万吨'"}}
           }}
        ]}
      ]},
      {"width": 0.01, "height": 183, "view": {"stroke": "#000000", "strokeWidth": 1.2}, "mark": "point", "data": {"values": []}},
      {"width": 302, "height": 0.01, "view": {"stroke": "#000000", "strokeWidth": 1.2}, "mark": "point", "data": {"values": []}, "title": {"text": "数据来源：Wind，华龙证券研究所", "orient": "bottom", "offset": 8, "dx": 3}}
    ]
  }
]
}
